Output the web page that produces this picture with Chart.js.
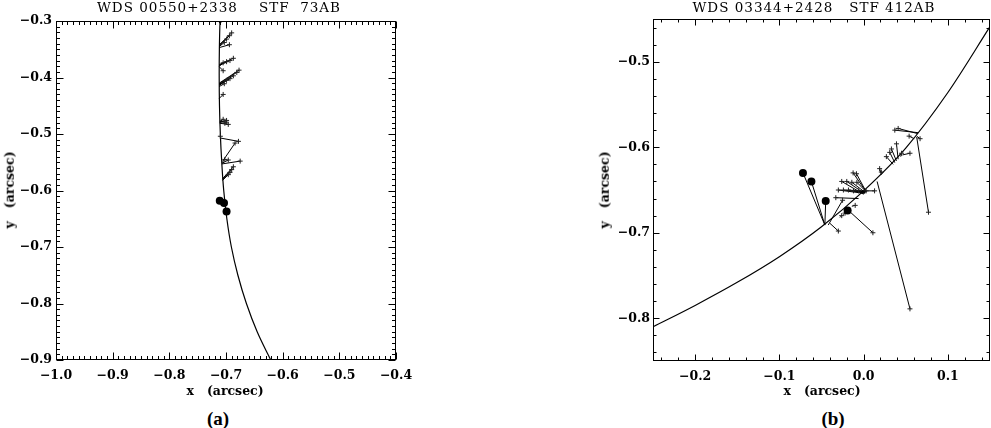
<!DOCTYPE html>
<html><head><meta charset="utf-8">
<script src="https://cdn.jsdelivr.net/npm/chart.js@4.4.0/dist/chart.umd.min.js"></script>
<style>
html,body{margin:0;padding:0;background:#fff;width:991px;height:428px;overflow:hidden;position:relative}
.box{position:absolute}
.t{position:absolute;white-space:pre;color:#000;line-height:1;transform:translate(-50%,-50%)}
.ttl{font-family:'DejaVu Serif';font-size:13.5px;letter-spacing:1px}
.ax{font-family:'DejaVu Serif';font-weight:bold;font-size:12.5px}
.rot{transform:translate(-50%,-50%) rotate(-90deg)}
.cap{font-family:'Liberation Serif';font-weight:bold;font-size:19px}
</style></head><body>
<div class="box" style="left:0;top:0;width:430px;height:400px"><canvas id="ca"></canvas></div>
<div class="box" style="left:560px;top:0;width:431px;height:400px"><canvas id="cb"></canvas></div>
<div class="t ttl" style="left:219px;top:8px">WDS 00550+2338    STF  73AB</div>
<div class="t ttl" style="left:814px;top:8px">WDS 03344+2428   STF 412AB</div>
<div class="t ax" style="left:225px;top:391px">x   (arcsec)</div>
<div class="t ax" style="left:822px;top:391px">x   (arcsec)</div>
<div class="t ax rot" style="left:10px;top:190px">y   (arcsec)</div>
<div class="t ax rot" style="left:605px;top:190px">y   (arcsec)</div>
<div class="t cap" style="left:218px;top:418px">(a)</div>
<div class="t cap" style="left:833px;top:418px">(b)</div>
<script>
// ---------- Panel (a): WDS 00550+2338 STF 73AB ----------
const aXTicks = [-1.0, -0.9, -0.8, -0.7, -0.6, -0.5, -0.4];
const aYTicks = [-0.9, -0.8, -0.7, -0.6, -0.5, -0.4, -0.3];
const aOrbitX = [-0.7095, -0.7105, -0.7117, -0.7120, -0.7115, -0.7100, -0.7075, -0.7040, -0.6985, -0.6905, -0.6790, -0.6640, -0.6450, -0.6210, -0.6160];
const aOrbitY = [-0.29, -0.30, -0.35, -0.40, -0.45, -0.50, -0.55, -0.60, -0.65, -0.70, -0.75, -0.80, -0.85, -0.90, -0.91];
const aObsX  = [-0.690, -0.694, -0.699, -0.703, -0.694, -0.687, -0.693, -0.699, -0.705, -0.705, -0.677, -0.681, -0.687, -0.693, -0.699, -0.703, -0.705, -0.705, -0.699, -0.702, -0.696, -0.700, -0.710, -0.678, -0.684, -0.702, -0.696, -0.675, -0.687, -0.690, -0.693, -0.696, -0.716, -0.705];
const aObsY  = [-0.321, -0.326, -0.332, -0.338, -0.342, -0.366, -0.370, -0.372, -0.374, -0.388, -0.387, -0.391, -0.397, -0.402, -0.405, -0.411, -0.430, -0.474, -0.476, -0.481, -0.483, -0.479, -0.504, -0.513, -0.516, -0.545, -0.546, -0.548, -0.558, -0.563, -0.568, -0.572, -0.297, -0.296];
const aCalcX = [-0.7117, -0.7117, -0.7117, -0.7117, -0.7117, -0.7119, -0.7119, -0.7119, -0.7119, -0.7119, -0.7120, -0.7120, -0.7120, -0.7120, -0.7120, -0.7120, -0.7119, -0.7110, -0.7110, -0.7110, -0.7110, -0.7110, -0.7098, -0.7106, -0.7058, -0.7072, -0.7072, -0.7072, -0.7060, -0.7060, -0.7060, -0.7060, -0.7105, -0.7105];
const aCalcY = [-0.342, -0.343, -0.344, -0.345, -0.347, -0.377, -0.378, -0.379, -0.380, -0.381, -0.410, -0.411, -0.412, -0.413, -0.414, -0.416, -0.437, -0.478, -0.479, -0.480, -0.481, -0.477, -0.506, -0.507, -0.548, -0.551, -0.552, -0.553, -0.579, -0.580, -0.581, -0.582, -0.304, -0.305];
const aDotX = [-0.711, -0.7035, -0.699];
const aDotY = [-0.618, -0.622, -0.637];

// ---------- Panel (b): WDS 03344+2428 STF 412AB ----------
const bXTicks = [-0.2, -0.1, 0.0, 0.1];
const bYTicks = [-0.8, -0.7, -0.6, -0.5];
const bOrbitX = [-0.25, -0.20, -0.15, -0.10, -0.05, 0.00, 0.05, 0.10, 0.15];
const bOrbitY = [-0.810, -0.785, -0.758, -0.728, -0.693, -0.651, -0.601, -0.536, -0.459];
const bObsX  = [-0.0125, -0.0085, -0.026, -0.020, -0.014, -0.008, -0.030, -0.024, -0.018, -0.012, -0.006, 0.003, 0.013, -0.033, -0.030, 0.011, -0.025, -0.010, -0.026, -0.022, 0.019, 0.021, 0.027, 0.031, 0.033, 0.039, 0.045, 0.055, 0.037, 0.041, 0.054, 0.067, 0.077, 0.055];
const bObsY  = [-0.630, -0.631, -0.640, -0.640, -0.641, -0.641, -0.650, -0.650, -0.650, -0.651, -0.651, -0.651, -0.651, -0.659, -0.698, -0.700, -0.662, -0.668, -0.680, -0.677, -0.625, -0.629, -0.611, -0.606, -0.602, -0.596, -0.607, -0.607, -0.580, -0.578, -0.587, -0.590, -0.676, -0.789];
const bCalcX = [0.003, 0.003, 0.000, 0.001, 0.002, 0.003, 0.001, 0.002, 0.003, 0.003, 0.004, 0.004, 0.004, -0.006, -0.040, -0.019, -0.042, -0.014, -0.028, -0.024, 0.021, 0.022, 0.035, 0.037, 0.039, 0.041, 0.044, 0.046, 0.065, 0.064, 0.060, 0.063, 0.063, 0.016];
const bCalcY = [-0.652, -0.652, -0.655, -0.654, -0.653, -0.652, -0.654, -0.653, -0.652, -0.652, -0.651, -0.651, -0.651, -0.660, -0.689, -0.673, -0.691, -0.669, -0.682, -0.679, -0.632, -0.631, -0.620, -0.618, -0.616, -0.614, -0.611, -0.609, -0.583, -0.584, -0.590, -0.587, -0.588, -0.640];
const bDotX = [-0.072, -0.062, -0.045, -0.019];
const bDotY = [-0.630, -0.640, -0.663, -0.674];
const bDotCalcX = [-0.046, -0.046, -0.046, -0.018];
const bDotCalcY = [-0.691, -0.691, -0.691, -0.671];

const fmt = v => (Math.abs(v) < 1e-9 ? '0.0' : Number(v).toFixed(1)).replace('-', '\u2212');

const frameTicks = {
  id: 'frameTicks',
  afterDatasetsDraw(chart, args, o) {
    const { ctx, chartArea: a, scales } = chart;
    const L = Math.round(a.left) + 0.5, R = Math.round(a.right) - 0.5, T = Math.round(a.top) + 0.5, B = Math.round(a.bottom) - 0.5;
    ctx.save();
    ctx.strokeStyle = '#000'; ctx.lineWidth = 1;
    ctx.beginPath();
    const isMaj = (v, arr, st) => arr.some(t => Math.abs(t - v) < st / 10);
    const sx = scales.x, sy = scales.y;
    for (let i = Math.ceil(sx.min / o.minor - 1e-6); i <= Math.floor(sx.max / o.minor + 1e-6); i++) {
      const v = i * o.minor; const p = Math.round(sx.getPixelForValue(v)) + 0.5;
      const len = isMaj(v, o.xMajor, o.minor) ? o.majLen : o.minLen;
      ctx.moveTo(p, B); ctx.lineTo(p, B - len);
      ctx.moveTo(p, T); ctx.lineTo(p, T + len);
    }
    for (let i = Math.ceil(sy.min / o.minor - 1e-6); i <= Math.floor(sy.max / o.minor + 1e-6); i++) {
      const v = i * o.minor; const p = Math.round(sy.getPixelForValue(v)) + 0.5;
      const len = isMaj(v, o.yMajor, o.minor) ? o.majLen : o.minLen;
      ctx.moveTo(L, p); ctx.lineTo(L + len, p);
      ctx.moveTo(R, p); ctx.lineTo(R - len, p);
    }
    ctx.stroke();
    ctx.strokeRect(L, T, R - L, B - T);
    ctx.restore();
  }
};

function buildDatasets(orbX, orbY, obsX, obsY, calcX, calcY, dotX, dotY, dotCX, dotCY, crossR, dotR, interp) {
  const ds = [];
  ds.push({ data: orbX.map((x, i) => ({ x, y: orbY[i] })), showLine: true, borderColor: '#000', borderWidth: 1.2, pointRadius: 0, tension: 0.4, cubicInterpolationMode: interp, order: 2 });
  obsX.forEach((x, i) => ds.push({ data: [{ x, y: obsY[i] }, { x: calcX[i], y: calcY[i] }], showLine: true, borderColor: '#000', borderWidth: 1, pointRadius: 0, tension: 0, order: 3 }));
  if (dotCX) dotX.forEach((x, i) => ds.push({ data: [{ x, y: dotY[i] }, { x: dotCX[i], y: dotCY[i] }], showLine: true, borderColor: '#000', borderWidth: 1, pointRadius: 0, tension: 0, order: 3 }));
  ds.push({ data: obsX.map((x, i) => ({ x, y: obsY[i] })), showLine: false, pointStyle: 'cross', pointRadius: crossR, borderColor: '#222', pointBorderWidth: 1, borderWidth: 1, order: 1 });
  ds.push({ data: dotX.map((x, i) => ({ x, y: dotY[i] })), showLine: false, pointStyle: 'circle', pointRadius: dotR, backgroundColor: '#000', borderColor: '#000', borderWidth: 0, order: 0 });
  return ds;
}

function makeChart(id, datasets, xr, yr, xt, yt, yW, xH, pad, tickPadY, minor, majLen, minLen) {
  const font = { family: 'DejaVu Serif', weight: 'bold', size: 12.5 };
  return new Chart(document.getElementById(id), {
    type: 'scatter',
    data: { datasets },
    options: {
      responsive: true, maintainAspectRatio: false, animation: false, events: [],
      layout: { padding: pad, autoPadding: false },
      plugins: { legend: { display: false }, tooltip: { enabled: false }, title: { display: false },
        frameTicks: { minor, majLen, minLen, xMajor: xt, yMajor: yt } },
      scales: {
        x: { type: 'linear', position: 'bottom', min: xr[0], max: xr[1],
          afterBuildTicks: s => { s.ticks = xt.map(v => ({ value: v })); },
          afterFit: s => { s.height = xH; },
          ticks: { callback: fmt, color: '#000', font, padding: 8, maxRotation: 0, autoSkip: false },
          grid: { display: false, drawTicks: false }, border: { display: false } },
        y: { type: 'linear', position: 'left', min: yr[0], max: yr[1],
          afterBuildTicks: s => { s.ticks = yt.map(v => ({ value: v })); },
          afterFit: s => { s.width = yW; },
          ticks: { callback: fmt, color: '#000', font, padding: tickPadY, autoSkip: false },
          grid: { display: false, drawTicks: false }, border: { display: false } }
      }
    },
    plugins: [frameTicks]
  });
}

makeChart('ca',
  buildDatasets(aOrbitX, aOrbitY, aObsX, aObsY, aCalcX, aCalcY, aDotX, aDotY, null, null, 2.5, 4, 'default'),
  [-1.0, -0.4], [-0.9, -0.3], aXTicks, aYTicks, 56, 40, { left: 0, top: 21, right: 34, bottom: 0 }, 4, 0.01, 7, 3.5);

makeChart('cb',
  buildDatasets(bOrbitX, bOrbitY, bObsX, bObsY, bCalcX, bCalcY, bDotX, bDotY, bDotCalcX, bDotCalcY, 2.5, 4, 'monotone'),
  [-0.25, 0.15], [-0.85, -0.45], bXTicks, bYTicks, 93, 39, { left: 0, top: 19, right: 1, bottom: 0 }, 3, 0.02, 6, 3);
</script>
</body></html>
